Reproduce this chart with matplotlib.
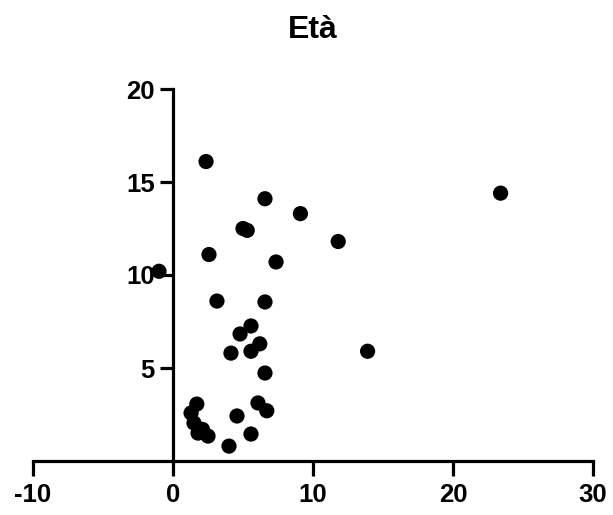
import matplotlib
matplotlib.use("Agg")
import matplotlib.pyplot as plt

# Scatter data for "Età"
x_vals = [2.36, 6.57, 9.1, 5.0, 5.3, 11.8, 2.57, -1.0, 7.36, 3.14, 6.57,
          5.57, 4.79, 6.2, 5.57, 4.14, 6.57, 6.07, 6.7, 4.57, 1.7, 1.29,
          1.5, 1.79, 2.5, 2.1, 5.57, 4.0, 13.9, 23.4]
y_vals = [16.1, 14.1, 13.3, 12.5, 12.4, 11.8, 11.1, 10.2, 10.7, 8.6, 8.55,
          7.26, 6.83, 6.3, 5.9, 5.8, 4.73, 3.12, 2.7, 2.42, 3.06, 2.58,
          2.04, 1.5, 1.34, 1.7, 1.45, 0.8, 5.9, 14.4]
x_ticks = [-10, 0, 10, 20, 30]
y_ticks = [5, 10, 15, 20]
title = "Età"

plt.rcParams["font.family"] = ["Liberation Sans", "DejaVu Sans"]
plt.rcParams["font.weight"] = "bold"
plt.rcParams["axes.unicode_minus"] = False

fig = plt.figure(figsize=(6.13, 5.15), dpi=100)
ax = fig.add_axes([33 / 613, 54 / 515, 560 / 613, 372 / 515])

ax.scatter(x_vals, y_vals, s=120, color="black", edgecolors="none",
           zorder=3, clip_on=False)

ax.set_xlim(-10, 30)
ax.set_ylim(0, 20)
ax.set_xticks(x_ticks)
ax.set_yticks(y_ticks)

for side in ("top", "right"):
    ax.spines[side].set_visible(False)
ax.spines["left"].set_position(("data", 0))
ax.spines["bottom"].set_position(("data", 0))
for side in ("left", "bottom"):
    ax.spines[side].set_linewidth(2.3)
    ax.spines[side].set_capstyle("projecting")

ax.tick_params(axis="x", direction="out", length=10.5, width=2.3,
               labelsize=18.5, pad=5)
ax.tick_params(axis="y", direction="out", length=9.5, width=2.3,
               labelsize=18.5, pad=3.5)
for lbl in ax.get_xticklabels() + ax.get_yticklabels():
    lbl.set_fontweight("bold")

fig.text(313 / 613, 1 - 38 / 515, title, ha="center", va="baseline",
         fontsize=23, fontweight="bold")

fig.savefig("out.png", dpi=100, facecolor="white")
